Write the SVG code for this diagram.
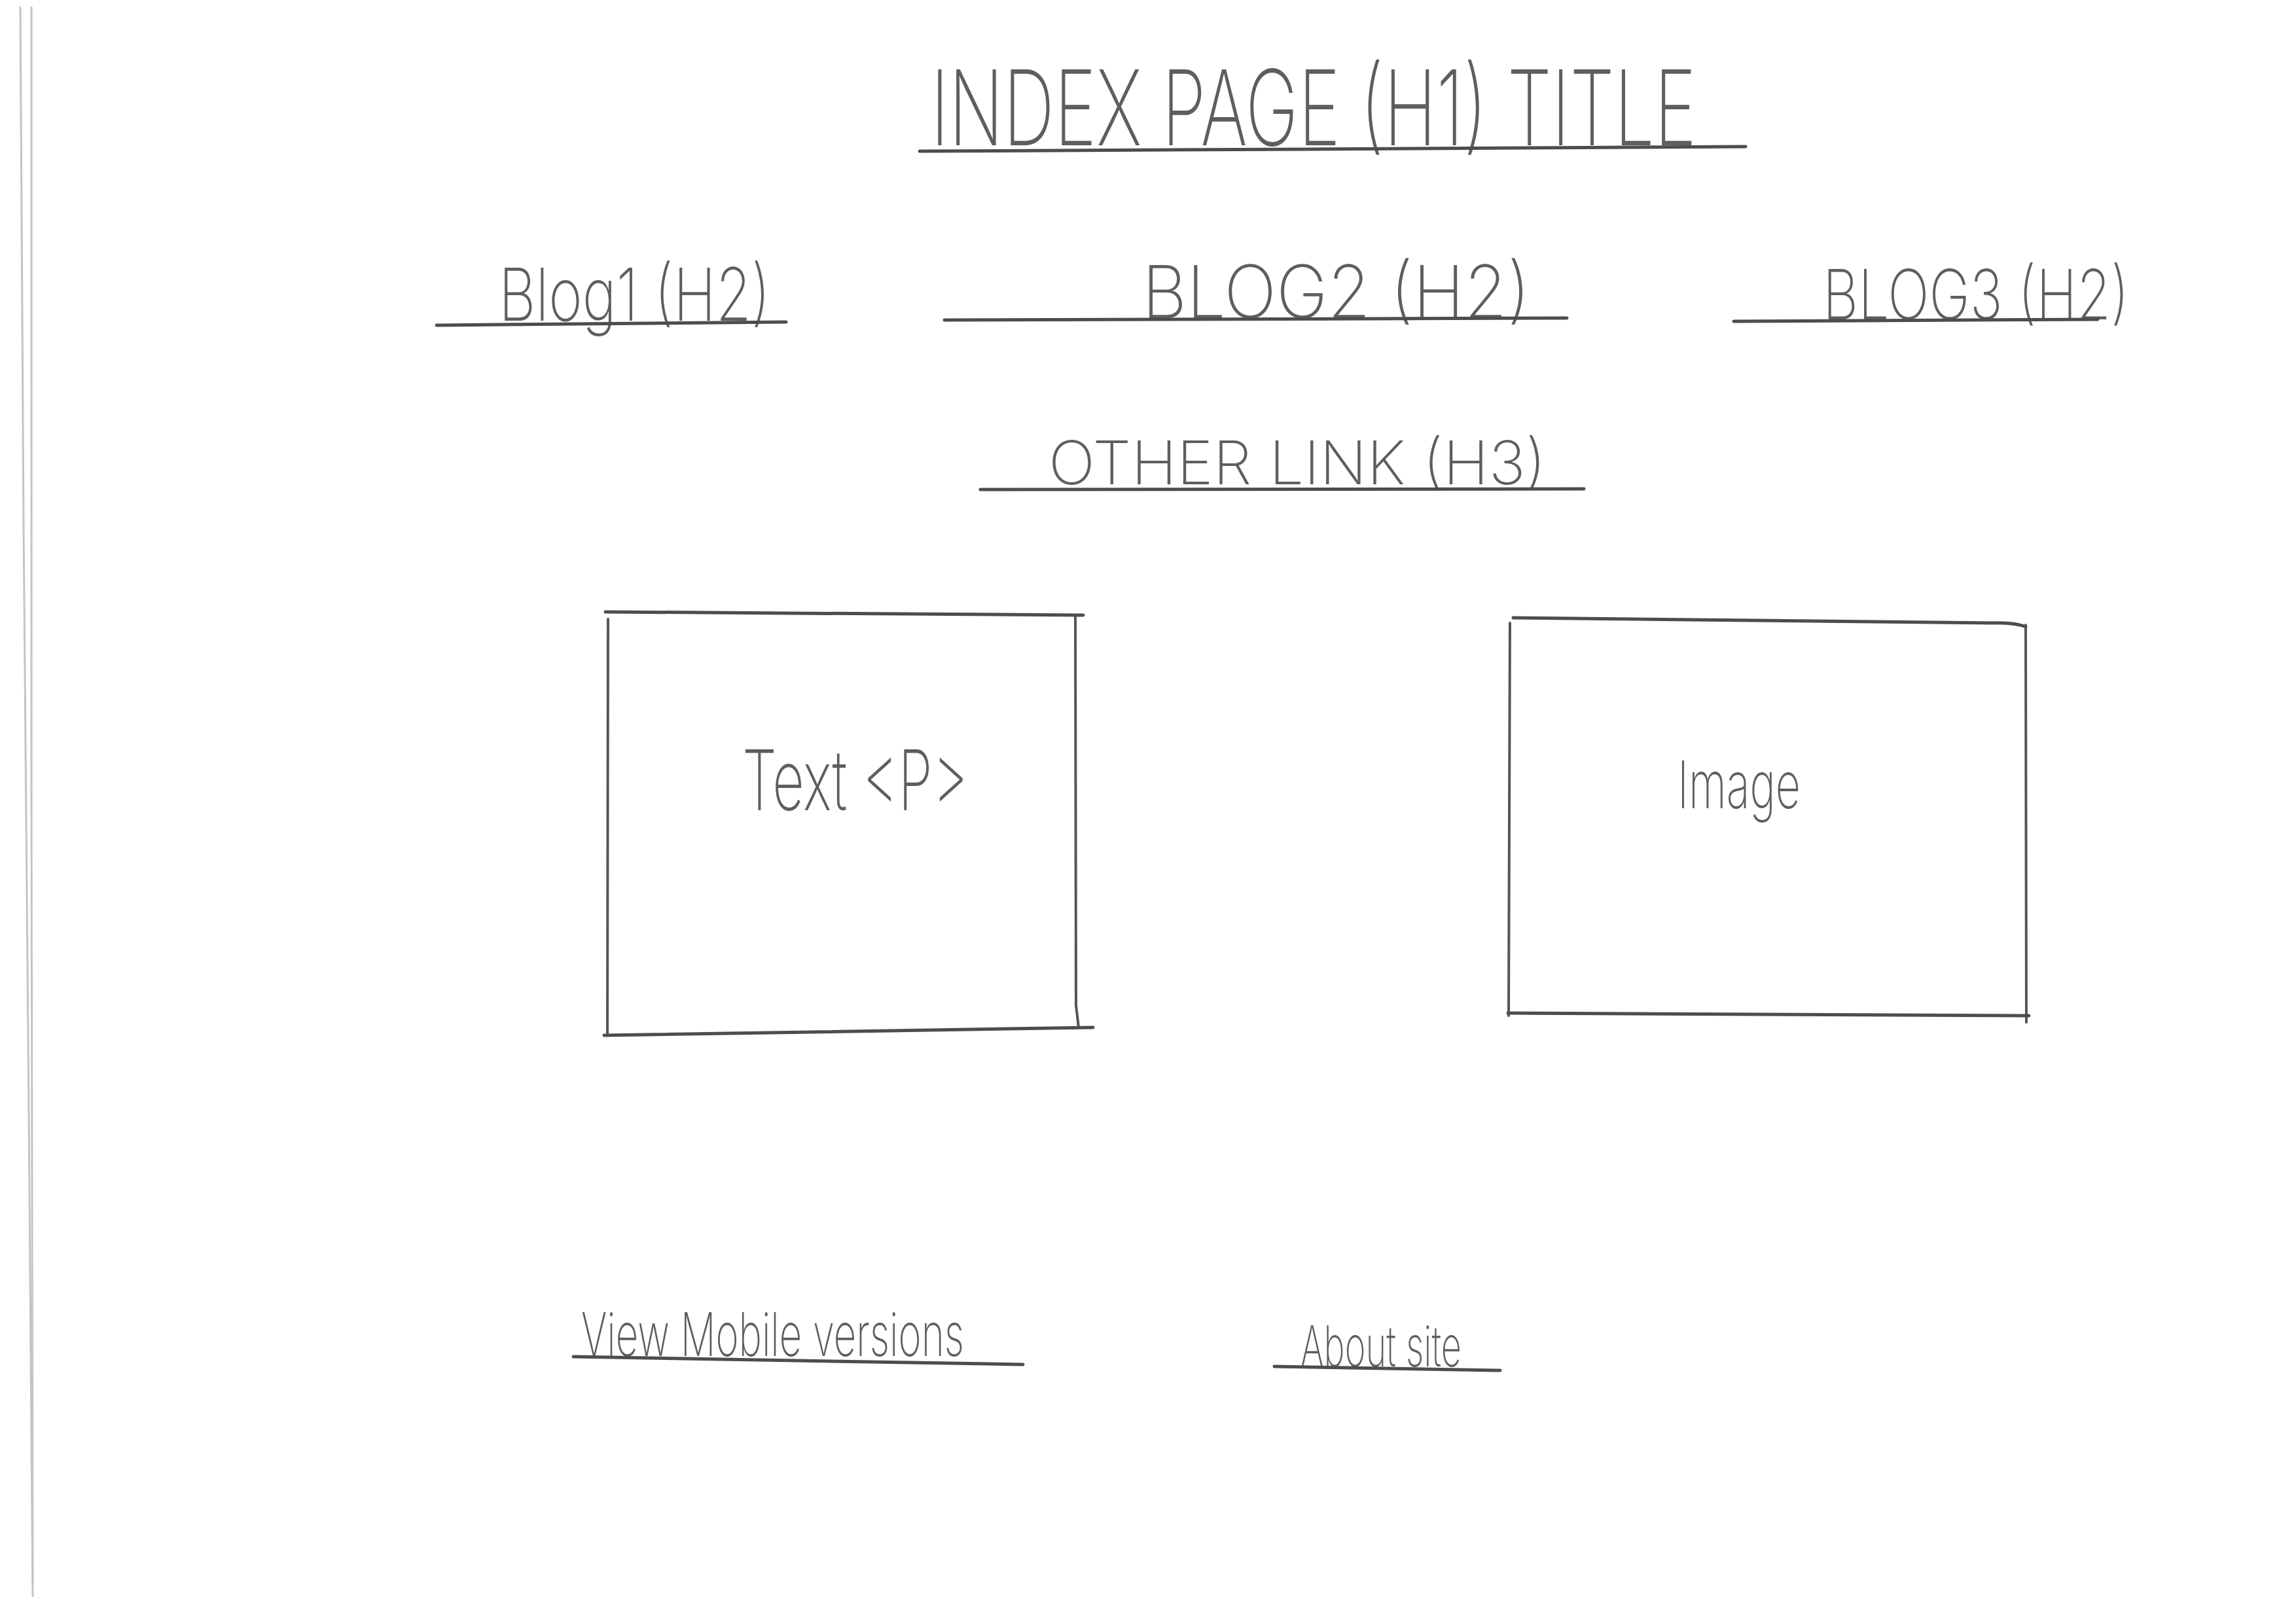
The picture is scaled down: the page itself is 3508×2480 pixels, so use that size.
<svg xmlns="http://www.w3.org/2000/svg" width="3508" height="2480" viewBox="0 0 3508 2480">
  <style>
    .pen { fill: none; stroke: #4d4d4d; stroke-width: 5; stroke-linecap: round; stroke-linejoin: round; }
    .pen-thin { fill: none; stroke: #555555; stroke-width: 4; stroke-linecap: round; }
    .edge { fill: none; stroke: #c4c4c4; stroke-width: 3; }
    .hand { font-family: "Inter", "Liberation Sans", "DejaVu Sans", sans-serif; font-weight: 200; fill: #5e5e5e; }
  </style>
  <rect x="0" y="0" width="3508" height="2480" fill="#ffffff"/>

  <!-- paper edge -->
  <g id="page-edge">
    <path class="edge" d="M31,10 L36,800 L44,1700 L50,2440"/>
    <path class="edge" d="M48,10 L48,1200 L50,2420"/>
  </g>

  <!-- page title -->
  <g id="title">
    <text class="hand" x="1422" y="222" font-size="160" textLength="1170" lengthAdjust="spacingAndGlyphs">INDEX PAGE (H1) TITLE</text>
    <path class="pen" d="M1405,231 L2000,228 L2667,224"/>
  </g>

  <!-- blog headings -->
  <g id="blog1">
    <text class="hand" x="762" y="490" font-size="112" textLength="415" lengthAdjust="spacingAndGlyphs">Blog1 (H2)</text>
    <path class="pen" d="M667,497 L1201,492"/>
  </g>
  <g id="blog2">
    <text class="hand" x="1745" y="486" font-size="112" textLength="593" lengthAdjust="spacingAndGlyphs">BLOG2 (H2)</text>
    <path class="pen" d="M1443,489 L2394,486"/>
  </g>
  <g id="blog3">
    <text class="hand" x="2785" y="488" font-size="106" textLength="468" lengthAdjust="spacingAndGlyphs">BLOG3 (H2)</text>
    <path class="pen" d="M2649,491 L3205,488"/>
  </g>

  <!-- secondary link -->
  <g id="other-link">
    <text class="hand" x="1602" y="740" font-size="92" textLength="760" lengthAdjust="spacingAndGlyphs">OTHER LINK (H3)</text>
    <path class="pen" d="M1498,748 L2420,747"/>
  </g>

  <!-- text block -->
  <g id="text-box">
    <path class="pen" d="M925,935 L1655,940"/>
    <path class="pen-thin" d="M929,946 L928,1582"/>
    <path class="pen-thin" d="M1643,941 L1644,1536 L1648,1570"/>
    <path class="pen" d="M923,1582 L1670,1570"/>
    <text class="hand" x="1134" y="1238" font-size="128" textLength="345" lengthAdjust="spacingAndGlyphs">Text &lt;P&gt;</text>
  </g>

  <!-- image block -->
  <g id="image-box">
    <path class="pen" d="M2312,944 L3060,952 Q3085,953 3095,958"/>
    <path class="pen-thin" d="M2307,952 L2305,1552"/>
    <path class="pen-thin" d="M3095,955 L3096,1562"/>
    <path class="pen" d="M2304,1548 L3100,1552"/>
    <text class="hand" x="2563" y="1235" font-size="100" textLength="188" lengthAdjust="spacingAndGlyphs">Image</text>
  </g>

  <!-- footer links -->
  <g id="mobile-link">
    <text class="hand" x="888" y="2072" font-size="92" textLength="585" lengthAdjust="spacingAndGlyphs">View Mobile versions</text>
    <path class="pen" d="M876,2073 L1563,2085"/>
  </g>
  <g id="about-link">
    <text class="hand" x="1987" y="2088" font-size="86" textLength="246" lengthAdjust="spacingAndGlyphs">About site</text>
    <path class="pen" d="M1947,2088 L2292,2094"/>
  </g>

  <g id="connectors"/>
</svg>
